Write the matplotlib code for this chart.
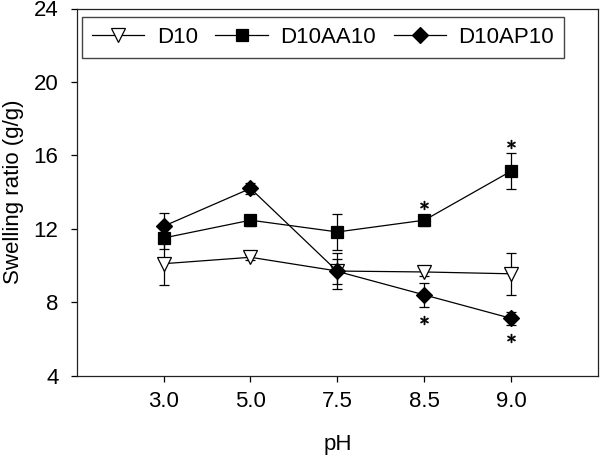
import matplotlib
matplotlib.use("Agg")
import matplotlib.pyplot as plt

plt.rcParams['font.family'] = ['Liberation Sans', 'DejaVu Sans']

categories = ["3.0", "5.0", "7.5", "8.5", "9.0"]
d10 = [10.1, 10.45, 9.7, 9.65, 9.55]
d10_err = [1.15, 0.15, 1.0, 0.2, 1.15]
d10aa10 = [11.5, 12.47, 11.83, 12.47, 15.15]
d10aa10_err = [0.6, 0.3, 0.97, 0.3, 0.97]
d10ap10 = [12.14, 14.2, 9.68, 8.4, 7.12]
d10ap10_err = [0.73, 0.3, 0.7, 0.65, 0.35]
star_x = [3, 4, 3, 4]
star_y = [13.28, 16.6, 7.03, 6.07]
yticks = [4, 8, 12, 16, 20, 24]

fig = plt.figure(figsize=(6, 4.55), dpi=100)
ax = fig.add_axes([76.6/600, 1-375.7/455, (598.3-76.6)/600, (375.7-8.5)/455])

x = list(range(len(categories)))
series = [
    ("D10", d10, d10_err, dict(marker='v', ms=9.5, mfc='white', mec='black')),
    ("D10AA10", d10aa10, d10aa10_err, dict(marker='s', ms=8.4, mfc='black', mec='black')),
    ("D10AP10", d10ap10, d10ap10_err, dict(marker='D', ms=8.0, mfc='black', mec='black')),
]
for i, (name, vals, errs, mk) in enumerate(series):
    ax.errorbar(x, vals, yerr=errs, fmt='none', ecolor='black', elinewidth=0.9,
                capsize=3.9, capthick=0.9, zorder=2 + i)
    ax.plot(x, vals, color='black', lw=0.9, mew=0.9, label=name, zorder=2 + i, **mk)

ax.plot(star_x, star_y, ls='none', marker=r'$\ast$', ms=6.3, color='black',
        mec='black', mew=0.4, zorder=6)

ax.set_xlim(-1, len(categories))
ax.set_ylim(4, 24)
ax.set_xticks(x)
ax.set_xticklabels(categories)
ax.set_yticks(yticks)
ax.tick_params(axis='both', direction='out', length=4, width=0.9, labelsize=16,
               top=False, right=False)
ax.tick_params(axis='x', pad=7)
ax.tick_params(axis='y', pad=9)
for s in ax.spines.values():
    s.set_linewidth(0.9)
    s.set_color('#222222')

ax.set_xlabel('pH', fontsize=16, labelpad=16)
ax.set_ylabel('Swelling ratio (g/g)', fontsize=16, labelpad=7)

ax.legend(loc='upper left', bbox_to_anchor=(0.0104, 0.977), borderaxespad=0,
          ncol=3, fancybox=False, edgecolor='#444444', framealpha=1,
          fontsize=16, numpoints=1, handlelength=2.35, handletextpad=0.56,
          columnspacing=0.8, borderpad=0.45)

fig.savefig('out.png', dpi=100)
